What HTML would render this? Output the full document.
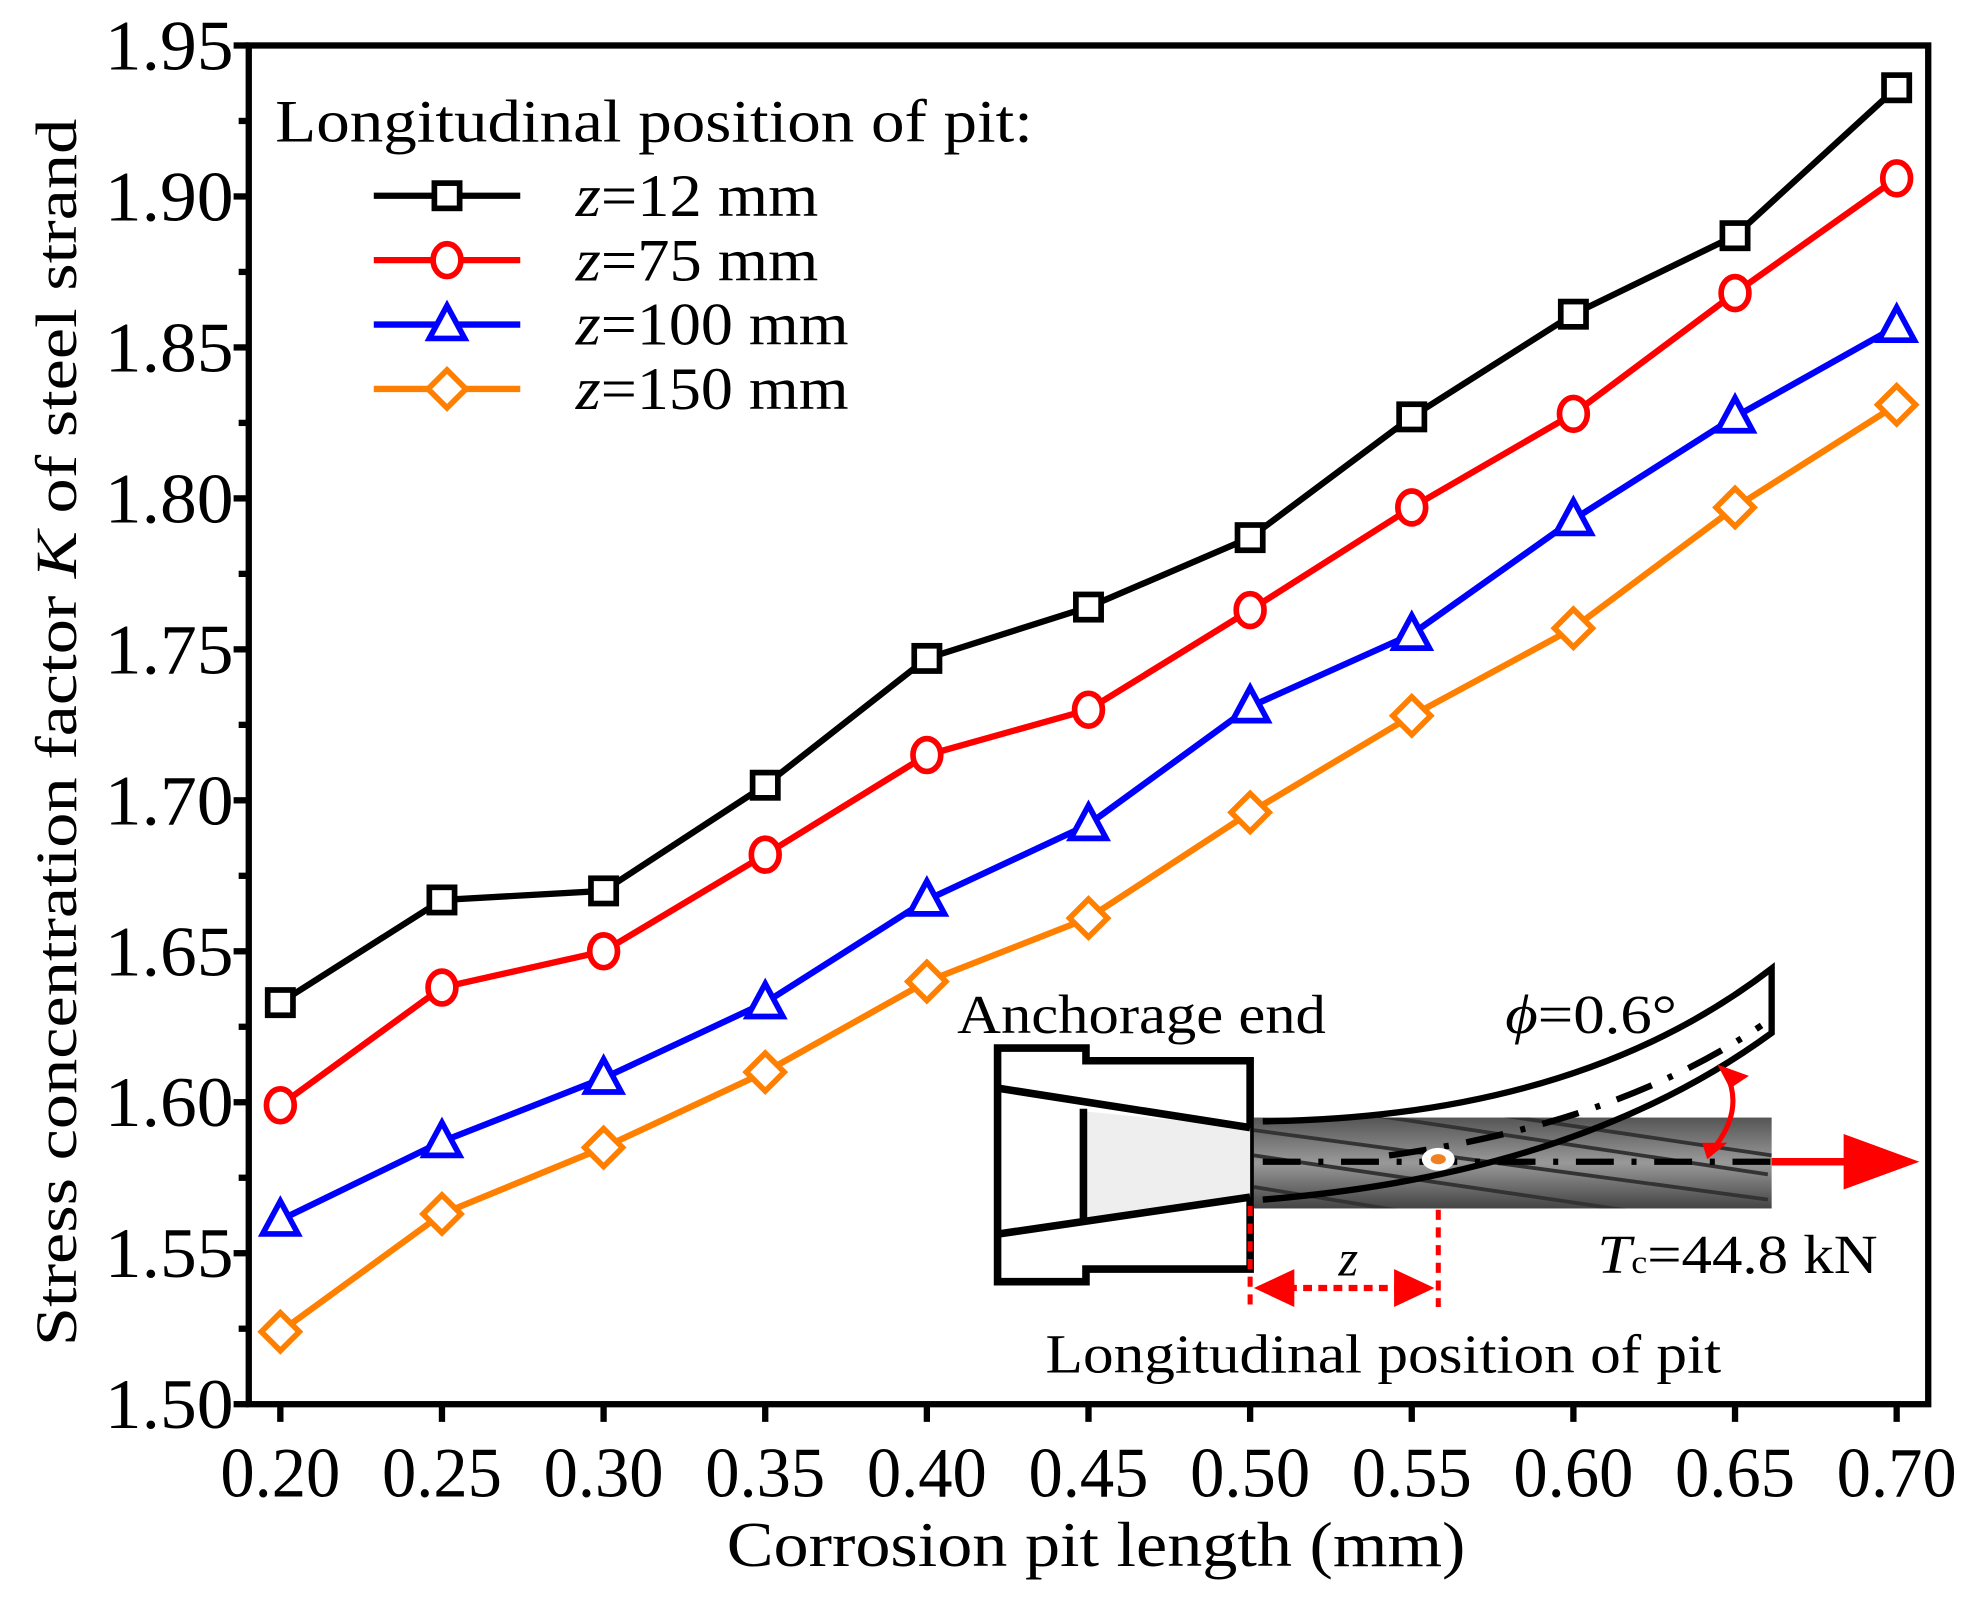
<!DOCTYPE html>
<html><head><meta charset="utf-8"><style>
html,body{margin:0;padding:0;background:#fff}
svg{display:block}
text{font-family:"Liberation Serif",serif;fill:#000}
</style></head><body>
<svg id="chart" width="1980" height="1606" viewBox="0 0 1568 1271.8" xmlns="http://www.w3.org/2000/svg">
<g id="axes"></g>
<g id="series"></g>
<g id="legend">
<text x="218" y="112" font-size="48" textLength="600" lengthAdjust="spacingAndGlyphs">Longitudinal position of pit:</text>
</g>
<g id="inset">
<defs>
<linearGradient id="rope" x1="0" y1="0" x2="0" y2="1">
<stop offset="0" stop-color="#555"/><stop offset="0.5" stop-color="#999"/><stop offset="1" stop-color="#444"/>
</linearGradient>
<clipPath id="ropeclip"><rect x="993" y="885" width="410" height="72"/></clipPath>
</defs>
<rect x="993" y="885" width="410" height="72" fill="url(#rope)"/>
<g clip-path="url(#ropeclip)" stroke="#333" stroke-width="3" fill="none">
<path d="M993 895 L1400 950"/><path d="M993 915 L1400 975"/><path d="M1000 870 L1400 930"/><path d="M993 940 L1300 990"/><path d="M1100 870 L1403 915"/>
</g>
<path d="M790 830 H860 V840 H990 V1005 H860 V1015 H790 Z" fill="#fff" stroke="#000" stroke-width="6"/>
<path d="M858 880 L990 893 L990 948 L858 968 Z" fill="#eee" stroke="none"/>
<path d="M792 862 L990 893 M792 977 L990 948 M858 878 V968" stroke="#000" stroke-width="6" fill="none"/>
<path d="M1000 888 Q1250 885 1403 767 V818 Q1250 930 1000 950" fill="none" stroke="#000" stroke-width="5"/>
<path d="M1000 920 H1403 M1100 915 Q1280 890 1395 812" fill="none" stroke="#000" stroke-width="5" stroke-dasharray="30 14 4 14"/>
<ellipse cx="1139" cy="918" rx="13" ry="9" fill="#fff"/><ellipse cx="1139" cy="918" rx="6" ry="4" fill="#f08020"/>
<path d="M1403 920 H1465" stroke="#f00" stroke-width="6"/><path d="M1460 898 L1520 920 L1460 942 Z" fill="#f00"/>
<path d="M1367 850 Q1382 880 1355 912" fill="none" stroke="#f00" stroke-width="4"/>
<path d="M1360 843 L1385 852 L1370 862Z M1348 905 L1368 905 L1352 918Z" fill="#f00"/>
<path d="M990 955 V1035 M1139 958 V1035" stroke="#f00" stroke-width="4" stroke-dasharray="8 6"/>
<path d="M1020 1020 H1110" stroke="#f00" stroke-width="5" stroke-dasharray="7 5"/>
<path d="M993 1020 L1025 1005 L1025 1035Z M1136 1020 L1104 1005 L1104 1035Z" fill="#f00"/>
<text x="758" y="818" font-size="44" textLength="292" lengthAdjust="spacingAndGlyphs">Anchorage end</text>
<text x="1192" y="818" font-size="44" textLength="136" lengthAdjust="spacingAndGlyphs"><tspan font-style="italic">ϕ</tspan>=0.6°</text>
<text x="1060" y="1010" font-size="40" font-style="italic">z</text>
<text x="1265" y="1008" font-size="44" textLength="222" lengthAdjust="spacingAndGlyphs"><tspan font-style="italic">T</tspan><tspan font-size="26">c</tspan>=44.8 kN</text>
<text x="828" y="1087" font-size="44" textLength="535" lengthAdjust="spacingAndGlyphs">Longitudinal position of pit</text>
</g>
<text transform="translate(60,580) rotate(-90)" text-anchor="middle" font-size="46" textLength="972" lengthAdjust="spacingAndGlyphs">Stress concentration factor <tspan font-style="italic">K</tspan> of steel strand</text>
<text x="868" y="1240" text-anchor="middle" font-size="50" textLength="585" lengthAdjust="spacingAndGlyphs">Corrosion pit length (mm)</text>
</svg>
<script>
const xCategories=[0.20,0.25,0.30,0.35,0.40,0.45,0.50,0.55,0.60,0.65,0.70];
const xTickLabels=["0.20","0.25","0.30","0.35","0.40","0.45","0.50","0.55","0.60","0.65","0.70"];
const yTickValues=[1.50,1.55,1.60,1.65,1.70,1.75,1.80,1.85,1.90,1.95];
const yTickLabels=["1.50","1.55","1.60","1.65","1.70","1.75","1.80","1.85","1.90","1.95"];
const seriesNames=["z=12 mm","z=75 mm","z=100 mm","z=150 mm"];
const seriesZ=["12","75","100","150"];
const z12=[1.633,1.667,1.670,1.705,1.747,1.764,1.787,1.827,1.861,1.887,1.936];
const z75=[1.599,1.638,1.650,1.682,1.715,1.730,1.763,1.797,1.828,1.868,1.906];
const z100=[1.561,1.587,1.608,1.633,1.667,1.692,1.731,1.755,1.793,1.827,1.857];
const z150=[1.524,1.563,1.585,1.610,1.640,1.661,1.696,1.728,1.757,1.797,1.831];

const NS="http://www.w3.org/2000/svg";
const X0=197,X1=1527,Y0=36,Y1=1112;
function xs(v){return 222+(v-0.20)/0.5*1280;}
function ys(v){return Y1-(v-1.50)/0.45*(Y1-Y0);}
function mk(tag,attrs,parent){const e=document.createElementNS(NS,tag);for(const k in attrs)e.setAttribute(k,attrs[k]);parent.appendChild(e);return e;}
const axes=document.getElementById('axes');
const fr=mk('rect',{x:X0,y:Y0,width:X1-X0,height:Y1-Y0,fill:'none',stroke:'#000','stroke-width':5},axes);


yTickValues.forEach((v,i)=>{
  const y=ys(v);
  const t=mk('line',{x1:X0-12,x2:X0,y1:y,y2:y,stroke:'#000','stroke-width':5},axes);
  
  
  const lb=mk('text',{x:X0-12,y:y+19,'text-anchor':'end','font-size':56,textLength:102,lengthAdjust:'spacingAndGlyphs'},axes);
  lb.textContent=yTickLabels[i];
  
  
  if(i<yTickValues.length-1){
    const ym=ys(v+0.025);
    const m=mk('line',{x1:X0-8,x2:X0,y1:ym,y2:ym,stroke:'#000','stroke-width':5},axes);
    
    
  }
});
xCategories.forEach((v,i)=>{
  const x=xs(v);
  const t=mk('line',{x1:x,x2:x,y1:Y1,y2:Y1+14,stroke:'#000','stroke-width':5},axes);
  
  
  const lb=mk('text',{x:x,y:1185,'text-anchor':'middle','font-size':56,textLength:95,lengthAdjust:'spacingAndGlyphs'},axes);
  lb.textContent=xTickLabels[i];
  
  
});
const colors=['#000','#ff0000','#0000ff','#ff8000'];
const shapes=['square','circle','triangle','diamond'];
function marker(g,shape,x,y,c){
  const a={fill:'#fff',stroke:c,'stroke-width':4.5};
  let e;
  if(shape==='square')e=mk('rect',Object.assign({x:x-10,y:y-10,width:20,height:20},a),g);
  else if(shape==='circle')e=mk('ellipse',Object.assign({cx:x,cy:y,rx:11,ry:13},a),g);
  else if(shape==='triangle')e=mk('polygon',Object.assign({points:`${x},${y-15} ${x-14},${y+11} ${x+14},${y+11}`},a),g);
  else e=mk('polygon',Object.assign({points:`${x},${y-15} ${x+15},${y} ${x},${y+15} ${x-15},${y}`},a),g);
  return e;
}
const seriesG=document.getElementById('series');
[z12,z75,z100,z150].forEach((vals,s)=>{
  const g=mk('g',{},seriesG);
  
  
  const pts=vals.map((v,i)=>xs(xCategories[i])+','+ys(v)).join(' ');
  const pl=mk('polyline',{points:pts,fill:'none',stroke:colors[s],'stroke-width':5},g);
  
  
  vals.forEach((v,i)=>{
    const m=marker(g,shapes[s],xs(xCategories[i]),ys(v),colors[s]);
    
    
  });
});
const leg=document.getElementById('legend');
const legW=[192,192,216,216];
seriesNames.forEach((n,s)=>{
  const y=155+s*51;
  const g=mk('g',{},leg);
  
  
  mk('line',{x1:296,x2:412,y1:y,y2:y,stroke:colors[s],'stroke-width':5},g);
  marker(g,shapes[s],354,y,colors[s]);
  const t=mk('text',{x:456,y:y+16,'font-size':48,textLength:legW[s],lengthAdjust:'spacingAndGlyphs'},g);
  const it=mk('tspan',{'font-style':'italic'},t);it.textContent='z';
  const r=mk('tspan',{},t);r.textContent='='+seriesZ[s]+' mm';
});
</script>
</body></html>
